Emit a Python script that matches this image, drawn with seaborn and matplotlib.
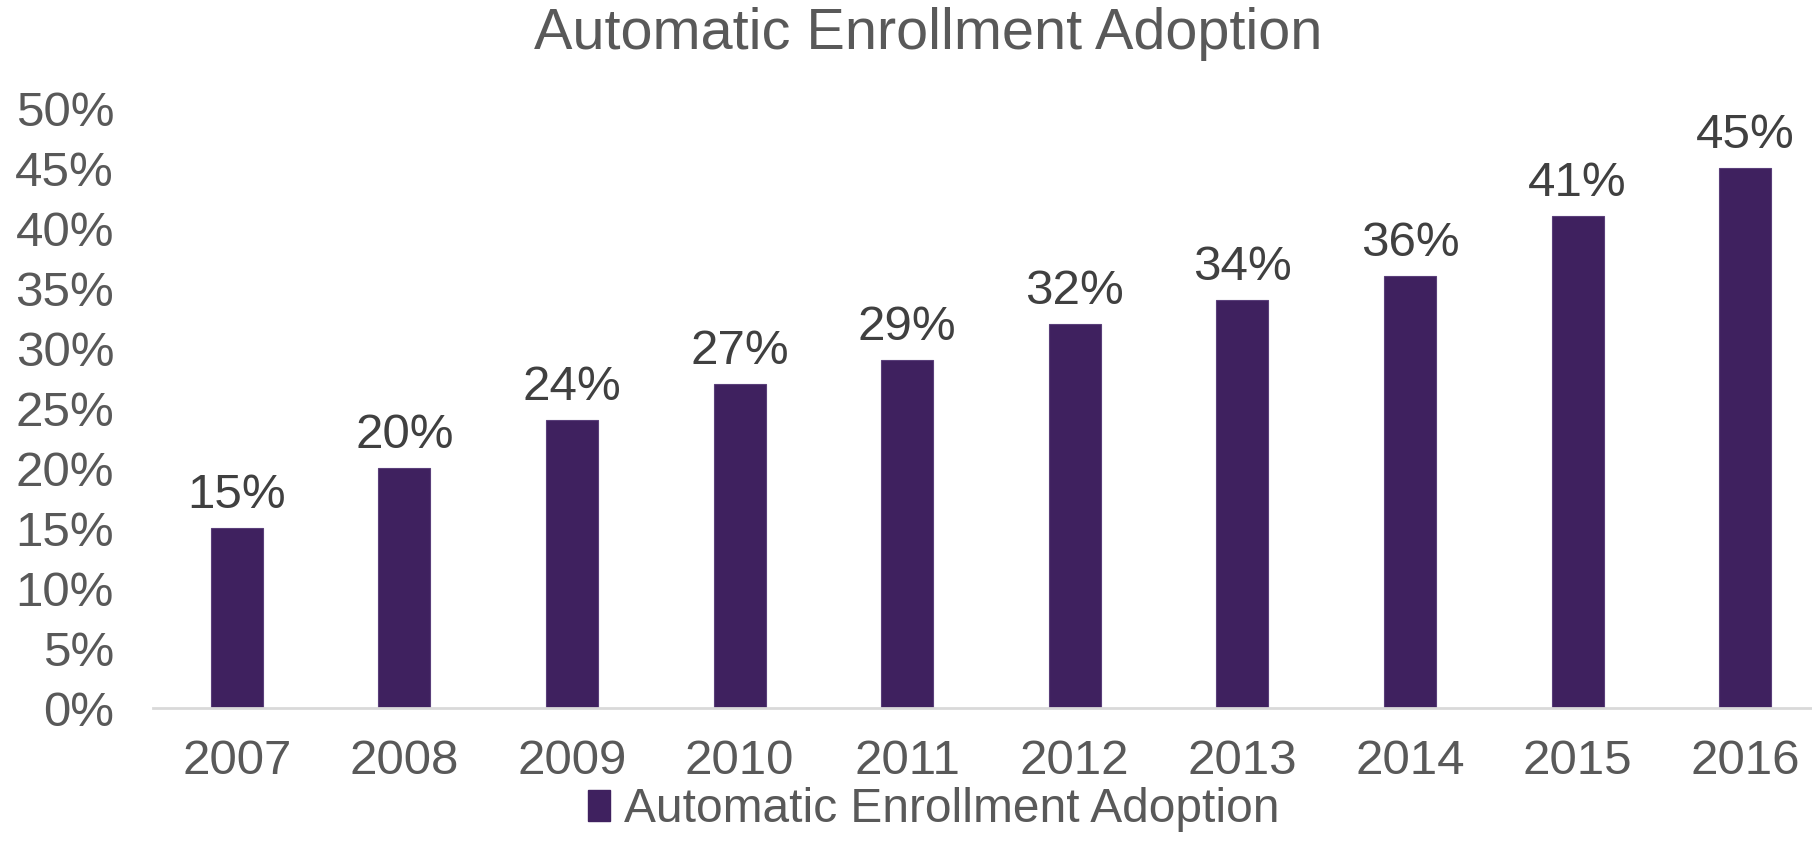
import matplotlib
matplotlib.use("Agg")
import matplotlib.pyplot as plt
import seaborn as sns
import pandas as pd
from matplotlib.patches import Patch

years = ["2007", "2008", "2009", "2010", "2011", "2012", "2013", "2014", "2015", "2016"]
adoption = [15, 20, 24, 27, 29, 32, 34, 36, 41, 45]
y_ticks = [0, 5, 10, 15, 20, 25, 30, 35, 40, 45, 50]
series_name = "Automatic Enrollment Adoption"

bar_color = "#3F215F"
tick_color = "#595959"
label_color = "#404040"

sns.set_theme(style="white")
plt.rcParams["font.family"] = ["Liberation Sans", "DejaVu Sans"]

df = pd.DataFrame({"year": years, "value": adoption})

fig = plt.figure(figsize=(18.12, 8.68), dpi=100)
ax = fig.add_axes([153 / 1812, 1 - 708 / 868, 1676 / 1812, 600 / 868])

sns.barplot(data=df, x="year", y="value", color=bar_color, width=0.31,
            saturation=1, edgecolor="#5A3F7A", linewidth=0.8, ax=ax)

for i, v in enumerate(adoption):
    ax.annotate(f"{v}%", (i, v), xytext=(0, 7), textcoords="offset points",
                ha="center", va="bottom", fontsize=35.5, color=label_color)

ax.set_xlim(-0.5, 9.5)
ax.set_ylim(0, 50)
ax.set_yticks(y_ticks)
ax.set_yticklabels([f"{t}%" for t in y_ticks])
ax.tick_params(axis="y", labelsize=35.5, labelcolor=tick_color, length=0, pad=28)
ax.tick_params(axis="x", labelsize=35.5, labelcolor=tick_color, length=0, pad=22)
ax.set_xlabel("")
ax.set_ylabel("")

for s in ["top", "right", "left"]:
    ax.spines[s].set_visible(False)
ax.spines["bottom"].set_color("#D9D9D9")
ax.spines["bottom"].set_linewidth(2)

fig.text(928 / 1812, 1 - 34 / 868, series_name, ha="center", va="center",
         fontsize=41.5, color=tick_color)

handle = Patch(facecolor=bar_color, edgecolor=bar_color)
fig.legend([handle], [series_name], loc="center", bbox_to_anchor=(934 / 1812, 1 - 810 / 868),
           frameon=False, labelcolor=tick_color,
           prop={"family": ["Liberation Sans", "DejaVu Sans"], "size": 34.5},
           handlelength=0.45, handleheight=0.62, handletextpad=0.3)

fig.savefig("out.png", dpi=100)
